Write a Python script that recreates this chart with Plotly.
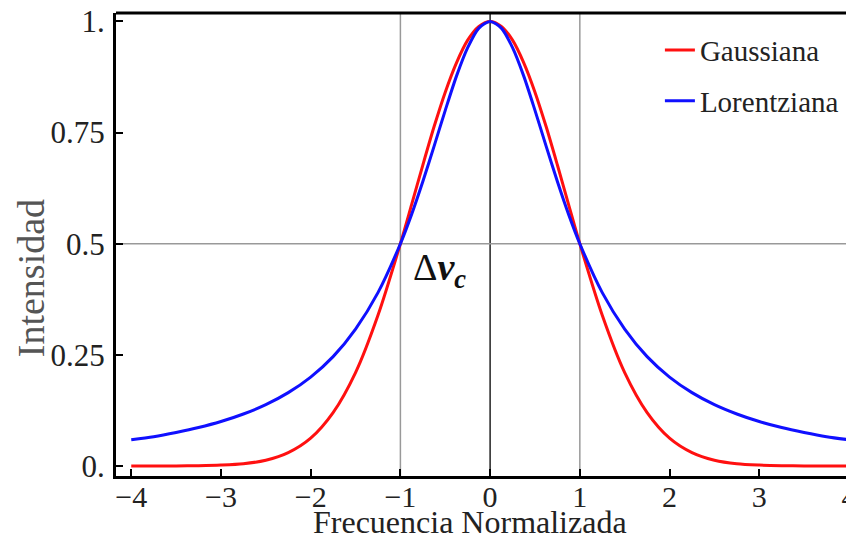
import plotly.graph_objects as go

# Normalized frequency samples
freq = [-4.0, -3.75, -3.5, -3.25, -3.0, -2.75, -2.5, -2.25, -2.0, -1.75, -1.5, -1.25, -1.0,
        -0.875, -0.75, -0.625, -0.5, -0.375, -0.25, -0.125, 0.0, 0.125, 0.25, 0.375, 0.5,
        0.625, 0.75, 0.875, 1.0, 1.25, 1.5, 1.75, 2.0, 2.25, 2.5,
        2.75, 3.0, 3.25, 3.5, 3.75, 4.0]

# Values
gaussiana = [0.0, 0.0001, 0.0002, 0.0007, 0.002, 0.005, 0.013, 0.030, 0.0625, 0.120, 0.210,
             0.339, 0.5, 0.588, 0.677, 0.763, 0.841, 0.907, 0.958, 0.989, 1.0, 0.989, 0.958,
             0.907, 0.841, 0.763, 0.677, 0.588, 0.5, 0.339, 0.210,
             0.120, 0.0625, 0.030, 0.013, 0.005, 0.002, 0.0007, 0.0002, 0.0001, 0.0]
lorentziana = [0.059, 0.066, 0.0755, 0.0865, 0.1, 0.117, 0.138, 0.165, 0.2, 0.246, 0.308,
               0.390, 0.5, 0.566, 0.64, 0.719, 0.8, 0.877, 0.941, 0.985, 1.0, 0.985, 0.941,
               0.877, 0.8, 0.719, 0.64, 0.566, 0.5, 0.390, 0.308, 0.246,
               0.2, 0.165, 0.138, 0.117, 0.1, 0.0865, 0.0755, 0.066, 0.059]

x_ticks = [-4, -3, -2, -1, 0, 1, 2, 3, 4]
x_ticktext = ["\u22124", "\u22123", "\u22122", "\u22121", "0", "1", "2", "3", "4"]
y_ticks = [0, 0.25, 0.5, 0.75, 1.0]
y_ticktext = ["0.", "0.25", "0.5", "0.75", "1."]

FONT = "Liberation Serif"

fig = go.Figure()
fig.add_trace(go.Scatter(x=freq, y=gaussiana, mode="lines", name="Gaussiana",
                         line=dict(color="#ff1010", width=3, shape="spline", smoothing=0.8),
                         legendgroup="g"))
fig.add_trace(go.Scatter(x=freq, y=lorentziana, mode="lines", name="Lorentziana",
                         line=dict(color="#1010ff", width=3, shape="spline", smoothing=0.8),
                         legendgroup="l"))

# reference lines
fig.add_shape(type="line", xref="x", yref="paper", x0=-1, x1=-1, y0=0, y1=1,
              line=dict(color="#999999", width=1.5), layer="below")
fig.add_shape(type="line", xref="x", yref="paper", x0=1, x1=1, y0=0, y1=1,
              line=dict(color="#999999", width=1.5), layer="below")
fig.add_shape(type="line", xref="x", yref="paper", x0=0, x1=0, y0=0, y1=1,
              line=dict(color="#222222", width=1.5), layer="below")
fig.add_shape(type="line", xref="paper", yref="y", x0=0, x1=1, y0=0.5, y1=0.5,
              line=dict(color="#999999", width=1.5), layer="below")
# top frame line
fig.add_shape(type="line", xref="paper", yref="paper", x0=0, x1=1, y0=1, y1=1,
              line=dict(color="black", width=3))

fig.add_annotation(x=-0.56, y=0.44, xref="x", yref="y", showarrow=False,
                   text="\u0394<b><i>\u03bd</i></b><sub><b><i>c</i></b></sub>",
                   font=dict(family=FONT, size=38, color="#111111"))

# axis titles
fig.add_annotation(x=0.48, y=-0.099, xref="paper", yref="paper", showarrow=False,
                   xanchor="center", yanchor="middle", text="Frecuencia Normalizada",
                   font=dict(family=FONT, size=32, color="#222222"))
fig.add_annotation(x=-0.116, y=0.428, xref="paper", yref="paper", showarrow=False,
                   xanchor="center", yanchor="middle", text="Intensidad", textangle=-90,
                   font=dict(family=FONT, size=38, color="#555555"))

fig.update_layout(
    width=846, height=537,
    margin=dict(l=108, r=0, t=5, b=69, autoexpand=False),
    paper_bgcolor="white", plot_bgcolor="white",
    font=dict(family=FONT, color="#222222"),
    showlegend=True,
    legend=dict(x=0.737, y=0.975, xanchor="left", yanchor="top",
                font=dict(family=FONT, size=29, color="#222222"),
                bgcolor="rgba(0,0,0,0)", itemwidth=30, tracegroupgap=10,
                traceorder="grouped"),
    xaxis=dict(range=[-4.17, 4.056], tickvals=x_ticks, ticktext=x_ticktext,
               ticks="inside", ticklen=7, tickwidth=2, tickcolor="black",
               showline=True, linecolor="black", linewidth=3,
               showgrid=False, zeroline=False, automargin=False,
               ticklabelstandoff=-8, ticklabeloverflow="allow",
               tickfont=dict(family=FONT, size=30, color="#222222")),
    yaxis=dict(range=[-0.0225, 1.019], tickvals=y_ticks, ticktext=y_ticktext,
               ticks="inside", ticklen=7, tickwidth=2, tickcolor="black",
               showline=True, linecolor="black", linewidth=3,
               showgrid=False, zeroline=False, automargin=False,
               ticklabelstandoff=2, ticklabeloverflow="allow",
               tickfont=dict(family=FONT, size=31, color="#222222")),
)

fig.write_html("out.html")
